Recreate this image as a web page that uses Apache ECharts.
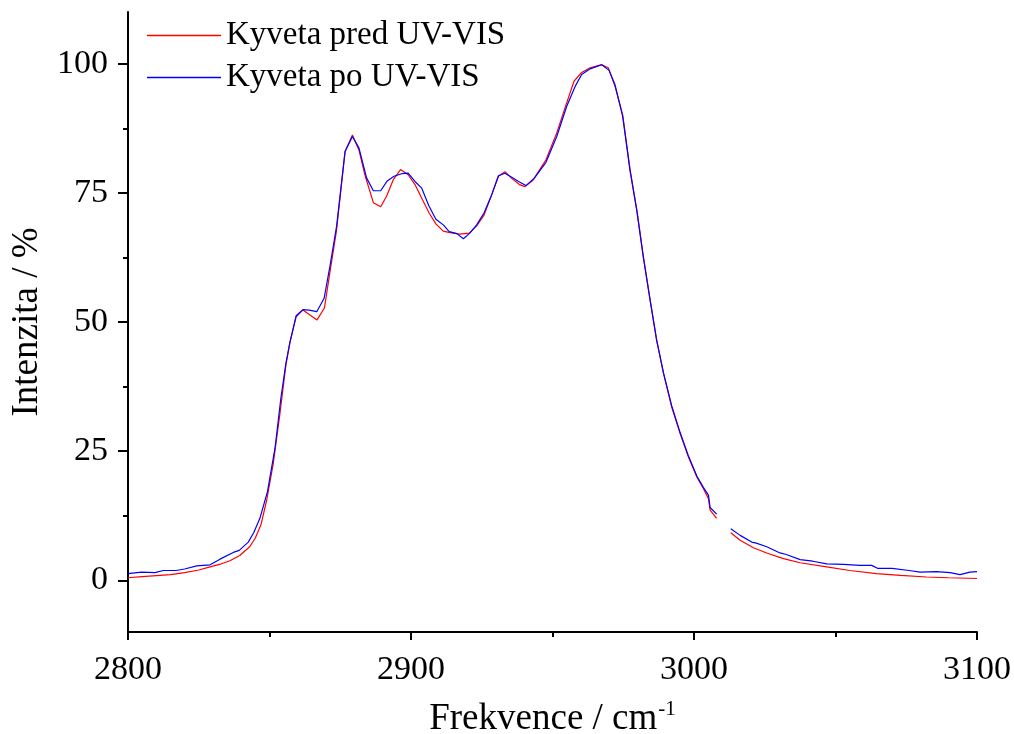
<!DOCTYPE html>
<html>
<head>
<meta charset="utf-8">
<script src="https://cdn.jsdelivr.net/npm/echarts@6/dist/echarts.min.js"></script>
<style>
  html, body { margin: 0; padding: 0; background: #fff; }
  #chart { width: 1014px; height: 734px; }
</style>
</head>
<body>
<div id="chart"></div>
<script>
// ====== data ======
const seriesNames = ['Kyveta pred UV-VIS', 'Kyveta po UV-VIS'];

// red: before UV-VIS (null = gap in the measurement)
const redX = [2800, 2805, 2810, 2815, 2820, 2825, 2829, 2833, 2836, 2839.5, 2843, 2845, 2847, 2849, 2851.3, 2853.7, 2855.8, 2857.2, 2859.4, 2861.8,
  2866.8, 2869.4, 2871.4, 2873.7, 2876.7, 2879.3, 2881.6, 2883.7, 2886.7, 2889.3, 2891.4, 2893.7, 2896.3, 2899, 2901.4, 2904.1, 2906.5, 2908.8, 2911.4, 2913.8,
  2917.3, 2920.6, 2923.2, 2925.8, 2928.5, 2930.9, 2933.2, 2935.6, 2938.3, 2940.3, 2943.2, 2947.7, 2951.5, 2955, 2957.6, 2960.3, 2963.3, 2967.4, 2969.7, 2972.1,
  2974.8, 2977.4, 2979.8, 2982.1, 2984.5, 2986.8, 2989.2, 2992.1, 2995.1, 2998, 3001, 3003.3, 3005.1, 3005.7, 3008, 3010,
  3013, 3016.3, 3021, 3025.7, 3031.6, 3037.5, 3046.9, 3055, 3064.5, 3073, 3082.2, 3090, 3100];
const redY = [0.5, 0.7, 0.9, 1.1, 1.5, 2.0, 2.6, 3.2, 3.8, 4.8, 6.5, 8.2, 10.8, 15.5, 22.5, 32.3, 41.7, 46, 51, 52.3,
  50.4, 52.7, 59.8, 67.8, 83.0, 86.2, 83.3, 78.5, 73.1, 72.3, 74.4, 77.5, 79.5, 78.5, 76.6, 73.6, 71, 69.0, 67.6, 67.3,
  67.0, 67.2, 68.6, 70.7, 74.6, 78.2, 79.1, 77.8, 76.6, 76.2, 77.5, 81.4, 86.6, 92.4, 96.6, 98.3, 99.2, 99.8, 99.2, 95.6,
  90.1, 79.5, 71.7, 62.7, 54.3, 46.5, 40.1, 33.6, 28.4, 23.9, 20.0, 17.8, 15.8, 13.6, 12.0, null,
  9.2, 7.75, 6.3, 5.3, 4.2, 3.4, 2.6, 1.9, 1.3, 0.95, 0.65, 0.5, 0.35];

// blue: after UV-VIS
const blueX = [2800, 2804.8, 2809.5, 2812.5, 2817, 2820, 2824.3, 2829, 2832.5, 2837.2, 2839.3, 2842.5, 2844.5, 2846.6, 2849.3, 2852, 2854, 2855.8, 2857.2, 2859.4,
  2861.8, 2864, 2866.7, 2869.3, 2871.4, 2873.7, 2876.7, 2879.3, 2881.6, 2884.3, 2886.7, 2889.3, 2891.6, 2894, 2896.7, 2899, 2901.4, 2903.8, 2906.3, 2908.8,
  2911.4, 2913.5, 2916.2, 2918.5, 2920.8, 2923.2, 2925.8, 2928.5, 2930.9, 2933.2, 2935.6, 2938, 2940.6, 2943.5, 2947.7, 2951.5, 2955, 2958, 2960.3, 2963.3,
  2967.4, 2970, 2972.1, 2974.8, 2977.4, 2979.8, 2982.1, 2984.5, 2986.8, 2989.2, 2992.1, 2995.1, 2998, 3001, 3003.3, 3005.1, 3005.7, 3008, 3010,
  3013, 3016.3, 3020.4, 3022, 3025.7, 3030.4, 3032.6, 3037.5, 3042, 3046.9, 3052.8, 3058.7, 3062.8, 3065, 3070, 3076, 3079.9, 3085.7, 3090.5, 3094, 3097.5, 3100];
const blueY = [1.3, 1.6, 1.5, 1.9, 1.9, 2.2, 2.8, 3.0, 4.1, 5.4, 5.8, 7.4, 9.3, 12.0, 17.2, 25.8, 35.2, 42, 46, 51.2,
  52.4, 52.3, 52.0, 54.6, 60.9, 68.5, 83.0, 85.9, 83.7, 77.9, 75.4, 75.4, 77.3, 78.2, 78.7, 78.8, 77.2, 75.9, 72.5, 69.9,
  68.8, 67.5, 67.1, 66.1, 67.2, 68.8, 71.1, 74.6, 78.3, 78.8, 78.0, 77.2, 76.4, 77.8, 80.9, 85.9, 91.7, 95.6, 97.9, 99.0,
  99.8, 98.7, 95.9, 89.8, 79.3, 71.5, 62.5, 54.2, 46.5, 40.2, 33.8, 28.6, 24.1, 20.2, 18.0, 16.5, 14.1, 12.8, null,
  10.0, 8.7, 7.4, 7.2, 6.5, 5.3, 5.0, 4.0, 3.7, 3.2, 3.1, 2.9, 2.9, 2.3, 2.3, 1.9, 1.6, 1.7, 1.5, 1.1, 1.6, 1.7];

const yMajor = [0, 25, 50, 75, 100];
const yMinor = [12.5, 37.5, 62.5, 87.5];

const toPairs = (xs, ys) => xs.map((x, i) => [x, ys[i]]);

const chart = echarts.init(document.getElementById('chart'));
const FONT = '"Liberation Serif", "Times New Roman", serif';
const axisLine = { onZero: false, lineStyle: { color: '#000', width: 2 } };

chart.setOption({
    animation: false,
    backgroundColor: '#fff',
    textStyle: { fontFamily: FONT, color: '#000' },
    grid: { left: 128, right: 37, top: 12, bottom: 102, outerBoundsMode: 'none', containLabel: false },
    legend: {
        orient: 'vertical', left: 142, top: 14,
        itemWidth: 74, itemHeight: 1.5, itemGap: 9,
        icon: 'rect',
        textStyle: { fontFamily: FONT, fontSize: 33, color: '#000' },
        data: seriesNames
    },
    xAxis: {
        type: 'value', min: 2800, max: 3100, interval: 100,
        name: '{a|Frekvence / cm}{b|-1}',
        nameLocation: 'middle', nameGap: 67,
        nameTextStyle: {
            rich: {
                a: { fontFamily: FONT, fontSize: 37, color: '#000' },
                b: { fontFamily: FONT, fontSize: 21, color: '#000', verticalAlign: 'bottom', padding: [0, 0, 20, 1] }
            }
        },
        axisLine: axisLine,
        axisTick: { inside: false, length: 8, lineStyle: { color: '#000', width: 2 } },
        minorTick: { show: true, splitNumber: 2, length: 5, lineStyle: { color: '#000', width: 2 } },
        axisLabel: { fontFamily: FONT, fontSize: 34, color: '#000', margin: 21, formatter: v => String(v) },
        splitLine: { show: false }
    },
    yAxis: [{
        type: 'value', min: -10, max: 110,
        name: 'Intenzita / %', nameLocation: 'middle', nameGap: 82,
        nameTextStyle: { fontFamily: FONT, fontSize: 37, color: '#000' },
        axisLine: axisLine,
        axisTick: { length: 10, customValues: yMajor, lineStyle: { color: '#000', width: 2 } },
        axisLabel: { fontFamily: FONT, fontSize: 34, color: '#000', margin: 20, customValues: yMajor, formatter: v => String(v) },
        splitLine: { show: false }
    }, {
        type: 'value', min: -10, max: 110, position: 'left',
        axisLine: { show: false },
        axisTick: { show: true, length: 5, customValues: yMinor, lineStyle: { color: '#000', width: 2 } },
        axisLabel: { show: false },
        splitLine: { show: false }
    }],
    series: [{
        name: seriesNames[0], type: 'line', showSymbol: false, connectNulls: false,
        data: toPairs(redX, redY),
        itemStyle: { color: '#ff0000' },
        lineStyle: { color: '#ff0000', width: 1.2 }
    }, {
        name: seriesNames[1], type: 'line', showSymbol: false, connectNulls: false,
        data: toPairs(blueX, blueY),
        itemStyle: { color: '#0000ff' },
        lineStyle: { color: '#0000ff', width: 1.2 }
    }]
});
</script>
</body>
</html>
